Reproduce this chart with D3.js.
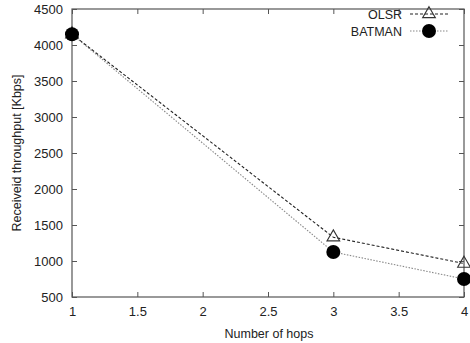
<!DOCTYPE html>
<html>
<head>
<meta charset="utf-8">
<script src="https://cdn.jsdelivr.net/npm/d3@7"></script>
<style>
  html, body { margin: 0; padding: 0; background: #fff; }
  text { font-family: "Liberation Sans", Arial, sans-serif; fill: #222; }
</style>
</head>
<body>
<svg id="chart" width="470" height="343"></svg>
<script>
// Throughput versus hop count for two routing protocols
const hops = [1, 3, 4];
const olsr = [4150, 1330, 965];
const batman = [4150, 1125, 750];
const xTicks = [1, 1.5, 2, 2.5, 3, 3.5, 4];
const yTicks = [500, 1000, 1500, 2000, 2500, 3000, 3500, 4000, 4500];
const seriesNames = ["OLSR", "BATMAN"];

const svg = d3.select("#chart");
const m = { left: 72, right: 6, top: 9, bottom: 46 };
const W = 470, H = 343;
const x = d3.scaleLinear().domain([1, 4]).range([m.left, W - m.right]);
const y = d3.scaleLinear().domain([500, 4500]).range([H - m.bottom, m.top]);
const frame = "#555";
const tickLen = 5;
const fs = 12.5;

// frame
svg.append("rect")
  .attr("x", x(1)).attr("y", y(4500))
  .attr("width", x(4) - x(1)).attr("height", y(500) - y(4500))
  .attr("fill", "none").attr("stroke", frame).attr("stroke-width", 1.2);

// axes with inward ticks, mirrored on top and right
const axB = d3.axisBottom(x).tickValues(xTicks).tickSize(-tickLen).tickPadding(10)
  .tickFormat(d => d3.format("~g")(d));
const axT = d3.axisTop(x).tickValues(xTicks).tickSize(-tickLen).tickFormat("");
const axL = d3.axisLeft(y).tickValues(yTicks).tickSize(-tickLen).tickPadding(9)
  .tickFormat(d3.format("d"));
const axR = d3.axisRight(y).tickValues(yTicks).tickSize(-tickLen).tickFormat("");

function styleAxis(g) {
  g.select(".domain").remove();
  g.selectAll(".tick line").attr("stroke", frame).attr("stroke-width", 1);
  g.selectAll(".tick text").attr("font-size", 13).attr("fill", "#222")
    .style("font-family", "'Liberation Sans', Arial, sans-serif");
}
svg.append("g").attr("transform", `translate(0,${y(500)})`).call(axB).call(styleAxis);
svg.append("g").attr("transform", `translate(0,${y(4500)})`).call(axT).call(styleAxis);
svg.append("g").attr("transform", `translate(${x(1)},0)`).call(axL).call(styleAxis);
svg.append("g").attr("transform", `translate(${x(4)},0)`).call(axR).call(styleAxis);

// axis titles
svg.append("text").attr("x", (x(1) + x(4)) / 2 + 1).attr("y", 338)
  .attr("text-anchor", "middle").attr("font-size", fs).text("Number of hops");
svg.append("text").attr("transform", `translate(21,${(y(500) + y(4500)) / 2}) rotate(-90)`)
  .attr("text-anchor", "middle").attr("font-size", fs).text("Receiveid throughput [Kbps]");

const line = d3.line().x(d => x(d[0])).y(d => y(d[1]));
const olsrPts = hops.map((h, i) => [h, olsr[i]]);
const batPts = hops.map((h, i) => [h, batman[i]]);

// BATMAN: fine dotted gray line with filled circles
svg.append("path").datum(batPts).attr("d", line)
  .attr("fill", "none").attr("stroke", "#888").attr("stroke-width", 1.1)
  .attr("stroke-dasharray", "1.5,1.5");
// OLSR: dashed dark line with open triangles
svg.append("path").datum(olsrPts).attr("d", line)
  .attr("fill", "none").attr("stroke", "#222").attr("stroke-width", 1.1)
  .attr("stroke-dasharray", "3,2");

const tri = d3.symbol().type(d3.symbolTriangle).size(70);
function triangle(g, cx, cy) {
  g.append("path").attr("d", tri()).attr("transform", `translate(${cx},${cy})`)
    .attr("fill", "none").attr("stroke", "#333").attr("stroke-width", 1.1);
}
function dot(g, cx, cy) {
  g.append("circle").attr("cx", cx).attr("cy", cy).attr("r", 7).attr("fill", "#000");
}
olsrPts.forEach(p => triangle(svg, x(p[0]), y(p[1])));
batPts.forEach(p => dot(svg, x(p[0]), y(p[1])));

// legend
const lg = svg.append("g");
const lx = 402, rows = [14, 31];
seriesNames.forEach((name, i) => {
  lg.append("text").attr("x", lx).attr("y", rows[i] + 4.5).attr("text-anchor", "end")
    .attr("font-size", fs).text(name);
  lg.append("line").attr("x1", lx + 8).attr("x2", lx + 46).attr("y1", rows[i]).attr("y2", rows[i])
    .attr("stroke", i === 0 ? "#222" : "#888").attr("stroke-width", 1.1)
    .attr("stroke-dasharray", i === 0 ? "3,2" : "1.5,1.5");
  if (i === 0) triangle(lg, lx + 27, rows[i]); else dot(lg, lx + 27, rows[i]);
});
</script>
</body>
</html>
